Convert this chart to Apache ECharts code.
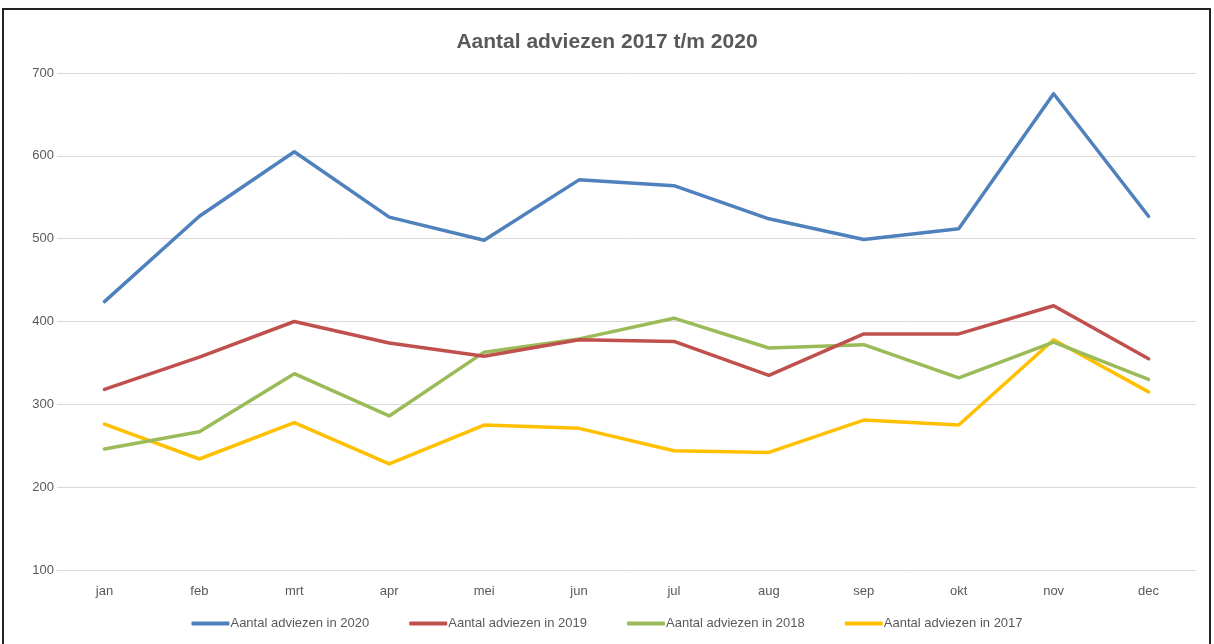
<!DOCTYPE html>
<html>
<head>
<meta charset="utf-8">
<script src="https://cdn.jsdelivr.net/npm/echarts@6/dist/echarts.min.js"></script>
<style>
  html, body { margin: 0; padding: 0; background: #fff; }
  #chart { width: 1214px; height: 644px; }
</style>
</head>
<body>
<div id="chart"></div>
<script>
const months = ["jan", "feb", "mrt", "apr", "mei", "jun", "jul", "aug", "sep", "okt", "nov", "dec"];

const adviezen2020 = [424, 527, 605, 526, 498, 571, 564, 524, 499, 512, 675, 527];
const adviezen2019 = [318, 357, 400, 374, 358, 378, 376, 335, 385, 385, 419, 355];
const adviezen2018 = [246, 267, 337, 286, 363, 379, 404, 368, 372, 332, 375, 330];
const adviezen2017 = [276, 234, 278, 228, 275, 271, 244, 242, 281, 275, 378, 315];

const seriesNames = [
  "Aantal adviezen in 2020",
  "Aantal adviezen in 2019",
  "Aantal adviezen in 2018",
  "Aantal adviezen in 2017"
];
const colors = ["#4f81bd", "#c0504d", "#9bbb59", "#ffc000"];

const fontFamily = "'Liberation Sans Narrow', 'Liberation Sans', sans-serif";

const chart = echarts.init(document.getElementById("chart"));

const lineSeries = [adviezen2020, adviezen2019, adviezen2018, adviezen2017].map((data, i) => ({
  name: seriesNames[i],
  type: "line",
  data: data,
  showSymbol: false,
  symbol: "none",
  lineStyle: { width: 3.5, color: colors[i], cap: "round", join: "round" },
  itemStyle: { color: colors[i] },
  z: 10 - i
}));

chart.setOption({
  animation: false,
  backgroundColor: "#fff",
  color: colors,
  title: {
    text: "Aantal adviezen 2017 t/m 2020",
    left: "center",
    top: 27,
    textStyle: {
      fontFamily: fontFamily,
      fontSize: 21,
      fontWeight: "bold",
      color: "#595959"
    }
  },
  legend: {
    bottom: 9,
    left: "center",
    itemWidth: 38,
    itemHeight: 4,
    itemGap: 40,
    icon: "roundRect",
    textStyle: { fontFamily: fontFamily, fontSize: 13, color: "#595959", padding: [0, 0, 0, -4] },
    data: seriesNames
  },
  grid: { left: 57, right: 18, top: 73, bottom: 74 },
  xAxis: {
    type: "category",
    data: months,
    boundaryGap: true,
    axisLine: { lineStyle: { color: "#d9d9d9", width: 1 } },
    axisTick: { show: false },
    axisLabel: { fontFamily: fontFamily, fontSize: 13, color: "#595959", margin: 15 }
  },
  yAxis: {
    type: "value",
    min: 100,
    max: 700,
    interval: 100,
    axisLine: { show: false },
    axisTick: { show: false },
    axisLabel: { fontFamily: fontFamily, fontSize: 13, color: "#595959", margin: 3 },
    splitLine: { lineStyle: { color: "#d9d9d9", width: 1 } }
  },
  graphic: [
    {
      type: "rect",
      shape: { x: 3, y: 9, width: 1207, height: 660 },
      style: { fill: null, stroke: "#222", lineWidth: 2 },
      silent: true
    }
  ],
  series: lineSeries
});
</script>
</body>
</html>
